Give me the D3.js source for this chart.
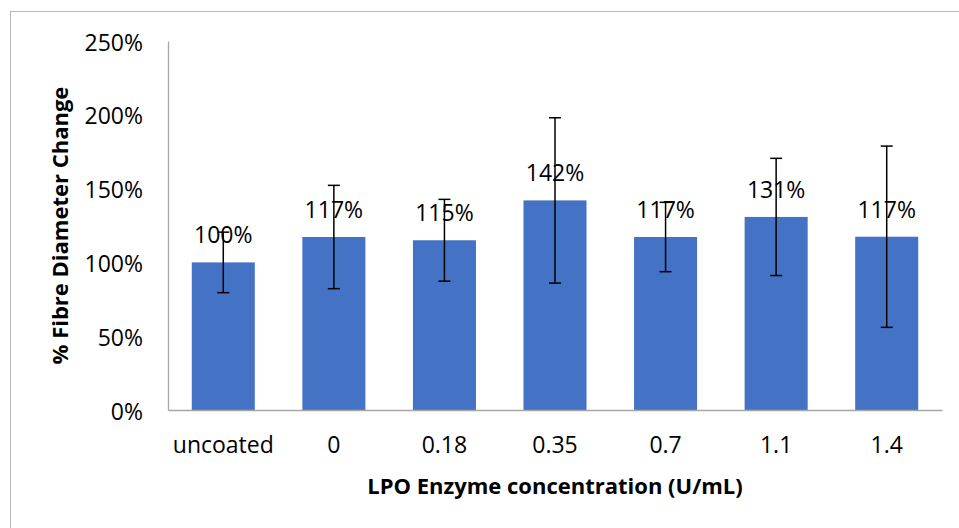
<!DOCTYPE html>
<html>
<head>
<meta charset="utf-8">
<script src="https://cdn.jsdelivr.net/npm/d3@7"></script>
<style>
  html, body { margin: 0; padding: 0; background: #fff; }
  svg { display: block; }
</style>
</head>
<body>
<script>
const categories = ["uncoated", "0", "0.18", "0.35", "0.7", "1.1", "1.4"];
const values = [1.00, 1.172, 1.15, 1.42, 1.172, 1.308, 1.174];
const errors = [0.205, 0.35, 0.277, 0.56, 0.235, 0.397, 0.614];
const yTicks = [0, 0.5, 1.0, 1.5, 2.0, 2.5];
const xTitle = "LPO Enzyme concentration (U/mL)";
const yTitle = "% Fibre Diameter Change";

(function () {
const W = 959, H = 528;
const pLeft = 168, pRight = 942, pTop = 41, pBottom = 410;
const font = "'Open Sans', sans-serif";

const svg = d3.select("body").append("svg").attr("width", W).attr("height", H);

// outer chart border
svg.append("rect")
  .attr("x", 10.5).attr("y", 11.5).attr("width", 960).attr("height", 540)
  .attr("fill", "none").attr("stroke", "#b8b8b8").attr("stroke-width", 1);

const x = d3.scaleBand().domain(categories).range([pLeft, pRight])
  .paddingInner(0.43).paddingOuter(0.215);
const y = d3.scaleLinear().domain([0, 2.5]).range([pBottom, pTop]);
const fmt = d3.format(".0%");

// bars
svg.append("g").selectAll("rect").data(categories).join("rect")
  .attr("x", d => x(d)).attr("width", x.bandwidth())
  .attr("y", (d, i) => y(values[i]))
  .attr("height", (d, i) => y(0) - y(values[i]))
  .attr("fill", "#4472C4");

// y axis
const yAxis = d3.axisLeft(y).tickValues(yTicks).tickFormat(fmt).tickSize(0).tickPadding(25);
const gy = svg.append("g").attr("transform", `translate(${pLeft},0)`).call(yAxis);
gy.select(".domain").attr("stroke", "#a6a6a6").attr("stroke-width", 1.3);
gy.selectAll("text").attr("font-family", font).attr("font-size", 23).attr("fill", "#000")
  .attr("dy", null).attr("dominant-baseline", "central");

// x axis
const xAxis = d3.axisBottom(x).tickSize(0).tickPadding(0);
const gx = svg.append("g").attr("transform", `translate(0,${pBottom})`).call(xAxis);
gx.select(".domain").attr("stroke", "#a6a6a6").attr("stroke-width", 1.3);
gx.selectAll("text").attr("font-family", font).attr("font-size", 23).attr("fill", "#000")
  .attr("dy", null).attr("y", 43);

// error bars
const eb = svg.append("g").attr("stroke", "#000").attr("stroke-width", 1.5);
categories.forEach((c, i) => {
  const cx = x(c) + x.bandwidth() / 2;
  const y1 = y(values[i] + errors[i]), y2 = y(values[i] - errors[i]);
  eb.append("line").attr("x1", cx).attr("x2", cx).attr("y1", y1).attr("y2", y2);
  eb.append("line").attr("x1", cx - 6).attr("x2", cx + 6).attr("y1", y1).attr("y2", y1);
  eb.append("line").attr("x1", cx - 6).attr("x2", cx + 6).attr("y1", y2).attr("y2", y2);
});

// data labels
svg.append("g").selectAll("text").data(categories).join("text")
  .attr("x", d => x(d) + x.bandwidth() / 2)
  .attr("y", (d, i) => y(values[i]) - 19)
  .attr("text-anchor", "middle")
  .attr("font-family", font).attr("font-size", 23).attr("fill", "#000")
  .text((d, i) => fmt(values[i]));

// axis titles
svg.append("text")
  .attr("x", (pLeft + pRight) / 2).attr("y", 494)
  .attr("text-anchor", "middle")
  .attr("font-family", font).attr("font-size", 22).attr("font-weight", "bold")
  .text(xTitle);

svg.append("text")
  .attr("transform", `translate(68,${(pTop + pBottom) / 2}) rotate(-90)`)
  .attr("text-anchor", "middle")
  .attr("font-family", font).attr("font-size", 22).attr("font-weight", "bold")
  .text(yTitle);
})();
</script>
</body>
</html>
